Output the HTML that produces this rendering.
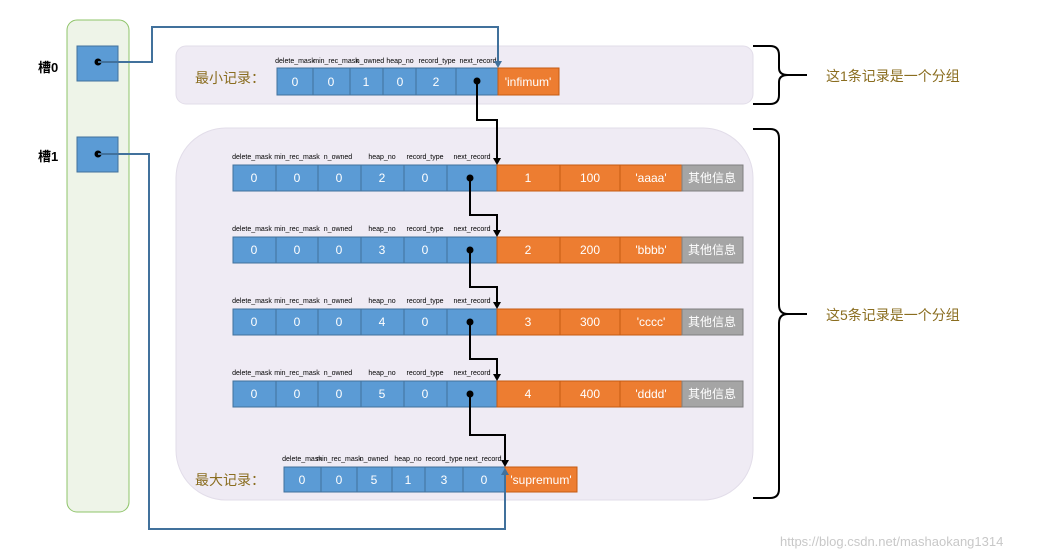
<!DOCTYPE html>
<html><head><meta charset="utf-8"><style>
html,body{margin:0;padding:0;background:#fff;}
svg{display:block;}
text{font-family:"Liberation Sans","Noto Sans CJK SC",sans-serif;}
.l{font-size:7px;fill:#000;text-anchor:middle;}
.v{font-size:12px;fill:#fff;text-anchor:middle;}
.b{fill:#5b9bd5;stroke:#41719c;stroke-width:1;}
.o{fill:#ed7d31;stroke:#c55a11;stroke-width:1;}
.g{fill:#a5a5a5;stroke:#7f7f7f;stroke-width:1;}
.cn{fill:none;stroke:#000;stroke-width:2;}
.bl{fill:none;stroke:#41719c;stroke-width:2;}
.zh{font-size:14px;fill:#8a6d1f;}
</style></head><body>
<svg width="1056" height="560" viewBox="0 0 1056 560" xmlns="http://www.w3.org/2000/svg">
<defs>
<marker id="ak" markerWidth="8" markerHeight="8" refX="4" refY="7" orient="auto" markerUnits="userSpaceOnUse"><path d="M0,0 L8,0 L4,8 z" fill="#000" transform="rotate(-90 4 4)"/></marker>
</defs>
<!-- green panel -->
<rect x="67" y="20" width="62" height="492" rx="10" fill="#eef4e8" stroke="#8fc46a" stroke-width="1"/>
<rect x="77" y="46" width="41" height="35" class="b"/>
<rect x="77" y="137" width="41" height="35" class="b"/>
<text x="38" y="72" font-size="13" font-weight="bold">槽0</text>
<text x="38" y="161" font-size="13" font-weight="bold">槽1</text>
<!-- panels -->
<rect x="176" y="46" width="577" height="58" rx="10" fill="#efebf4" stroke="#e2dde9"/>
<rect x="176" y="128" width="577" height="372" rx="50" fill="#efebf4" stroke="#e2dde9"/>
<text x="195" y="83" class="zh" font-size="15">最小记录：</text>
<text x="195" y="485" class="zh" font-size="15">最大记录：</text>
<!-- infimum -->
<g>
<text class="l" x="295" y="63">delete_mask</text><text class="l" x="336" y="63">min_rec_mask</text><text class="l" x="370" y="63">n_owned</text><text class="l" x="400" y="63">heap_no</text><text class="l" x="437" y="63">record_type</text><text class="l" x="478" y="63">next_record</text>
<rect x="277" y="68" width="36" height="27" class="b"/><rect x="313" y="68" width="37" height="27" class="b"/><rect x="350" y="68" width="33" height="27" class="b"/><rect x="383" y="68" width="33" height="27" class="b"/><rect x="416" y="68" width="40" height="27" class="b"/><rect x="456" y="68" width="42" height="27" class="b"/>
<rect x="498" y="68" width="61" height="27" class="o"/>
<text class="v" x="295" y="86">0</text><text class="v" x="331" y="86">0</text><text class="v" x="366" y="86">1</text><text class="v" x="400" y="86">0</text><text class="v" x="436" y="86">2</text>
<text class="v" x="528" y="86" font-size="10">'infimum'</text>
</g>
<!-- rows -->
<g id="rows">
<g transform="translate(0,0)">
<text class="l" x="252" y="159">delete_mask</text><text class="l" x="297" y="159">min_rec_mask</text><text class="l" x="338" y="159">n_owned</text><text class="l" x="382" y="159">heap_no</text><text class="l" x="425" y="159">record_type</text><text class="l" x="472" y="159">next_record</text>
<rect x="233" y="165" width="43" height="26" class="b"/><rect x="276" y="165" width="42" height="26" class="b"/><rect x="318" y="165" width="43" height="26" class="b"/><rect x="361" y="165" width="43" height="26" class="b"/><rect x="404" y="165" width="43" height="26" class="b"/><rect x="447" y="165" width="50" height="26" class="b"/>
<rect x="497" y="165" width="63" height="26" class="o"/><rect x="560" y="165" width="60" height="26" class="o"/><rect x="620" y="165" width="62" height="26" class="o"/><rect x="682" y="165" width="61" height="26" class="g"/>
<text class="v" x="254" y="182">0</text><text class="v" x="297" y="182">0</text><text class="v" x="339" y="182">0</text><text class="v" x="382" y="182">2</text><text class="v" x="425" y="182">0</text>
<text class="v" x="528" y="182" font-size="10">1</text><text class="v" x="590" y="182" font-size="10">100</text><text class="v" x="651" y="182" font-size="10">'aaaa'</text><text class="v" x="712" y="182" font-size="11">其他信息</text>
</g>
<g transform="translate(0,72)">
<text class="l" x="252" y="159">delete_mask</text><text class="l" x="297" y="159">min_rec_mask</text><text class="l" x="338" y="159">n_owned</text><text class="l" x="382" y="159">heap_no</text><text class="l" x="425" y="159">record_type</text><text class="l" x="472" y="159">next_record</text>
<rect x="233" y="165" width="43" height="26" class="b"/><rect x="276" y="165" width="42" height="26" class="b"/><rect x="318" y="165" width="43" height="26" class="b"/><rect x="361" y="165" width="43" height="26" class="b"/><rect x="404" y="165" width="43" height="26" class="b"/><rect x="447" y="165" width="50" height="26" class="b"/>
<rect x="497" y="165" width="63" height="26" class="o"/><rect x="560" y="165" width="60" height="26" class="o"/><rect x="620" y="165" width="62" height="26" class="o"/><rect x="682" y="165" width="61" height="26" class="g"/>
<text class="v" x="254" y="182">0</text><text class="v" x="297" y="182">0</text><text class="v" x="339" y="182">0</text><text class="v" x="382" y="182">3</text><text class="v" x="425" y="182">0</text>
<text class="v" x="528" y="182" font-size="10">2</text><text class="v" x="590" y="182" font-size="10">200</text><text class="v" x="651" y="182" font-size="10">'bbbb'</text><text class="v" x="712" y="182" font-size="11">其他信息</text>
</g>
<g transform="translate(0,144)">
<text class="l" x="252" y="159">delete_mask</text><text class="l" x="297" y="159">min_rec_mask</text><text class="l" x="338" y="159">n_owned</text><text class="l" x="382" y="159">heap_no</text><text class="l" x="425" y="159">record_type</text><text class="l" x="472" y="159">next_record</text>
<rect x="233" y="165" width="43" height="26" class="b"/><rect x="276" y="165" width="42" height="26" class="b"/><rect x="318" y="165" width="43" height="26" class="b"/><rect x="361" y="165" width="43" height="26" class="b"/><rect x="404" y="165" width="43" height="26" class="b"/><rect x="447" y="165" width="50" height="26" class="b"/>
<rect x="497" y="165" width="63" height="26" class="o"/><rect x="560" y="165" width="60" height="26" class="o"/><rect x="620" y="165" width="62" height="26" class="o"/><rect x="682" y="165" width="61" height="26" class="g"/>
<text class="v" x="254" y="182">0</text><text class="v" x="297" y="182">0</text><text class="v" x="339" y="182">0</text><text class="v" x="382" y="182">4</text><text class="v" x="425" y="182">0</text>
<text class="v" x="528" y="182" font-size="10">3</text><text class="v" x="590" y="182" font-size="10">300</text><text class="v" x="651" y="182" font-size="10">'cccc'</text><text class="v" x="712" y="182" font-size="11">其他信息</text>
</g>
<g transform="translate(0,216)">
<text class="l" x="252" y="159">delete_mask</text><text class="l" x="297" y="159">min_rec_mask</text><text class="l" x="338" y="159">n_owned</text><text class="l" x="382" y="159">heap_no</text><text class="l" x="425" y="159">record_type</text><text class="l" x="472" y="159">next_record</text>
<rect x="233" y="165" width="43" height="26" class="b"/><rect x="276" y="165" width="42" height="26" class="b"/><rect x="318" y="165" width="43" height="26" class="b"/><rect x="361" y="165" width="43" height="26" class="b"/><rect x="404" y="165" width="43" height="26" class="b"/><rect x="447" y="165" width="50" height="26" class="b"/>
<rect x="497" y="165" width="63" height="26" class="o"/><rect x="560" y="165" width="60" height="26" class="o"/><rect x="620" y="165" width="62" height="26" class="o"/><rect x="682" y="165" width="61" height="26" class="g"/>
<text class="v" x="254" y="182">0</text><text class="v" x="297" y="182">0</text><text class="v" x="339" y="182">0</text><text class="v" x="382" y="182">5</text><text class="v" x="425" y="182">0</text>
<text class="v" x="528" y="182" font-size="10">4</text><text class="v" x="590" y="182" font-size="10">400</text><text class="v" x="651" y="182" font-size="10">'dddd'</text><text class="v" x="712" y="182" font-size="11">其他信息</text>
</g>
</g>
<!-- supremum -->
<g>
<text class="l" x="302" y="461">delete_mask</text><text class="l" x="339" y="461">min_rec_mask</text><text class="l" x="374" y="461">n_owned</text><text class="l" x="408" y="461">heap_no</text><text class="l" x="444" y="461">record_type</text><text class="l" x="483" y="461">next_record</text>
<rect x="284" y="467" width="37" height="25" class="b"/><rect x="321" y="467" width="36" height="25" class="b"/><rect x="357" y="467" width="35" height="25" class="b"/><rect x="392" y="467" width="33" height="25" class="b"/><rect x="425" y="467" width="38" height="25" class="b"/><rect x="463" y="467" width="42" height="25" class="b"/>
<rect x="505" y="467" width="72" height="25" class="o"/>
<text class="v" x="302" y="484">0</text><text class="v" x="339" y="484">0</text><text class="v" x="374" y="484">5</text><text class="v" x="408" y="484">1</text><text class="v" x="444" y="484">3</text><text class="v" x="484" y="484">0</text>
<text class="v" x="541" y="484" font-size="10">'supremum'</text>
</g>
<!-- black connectors -->
<path class="cn" d="M477,81 V120 H497 V160"/>
<path class="cn" d="M470,178 V215 H497 V232"/>
<path class="cn" d="M470,250 V287 H497 V304"/>
<path class="cn" d="M470,322 V359 H497 V376"/>
<path class="cn" d="M470,394 V435 H505 V462"/>
<g fill="#000">
<path d="M493,158 L501,158 L497,165 z"/><path d="M493,230 L501,230 L497,237 z"/><path d="M493,302 L501,302 L497,309 z"/><path d="M493,374 L501,374 L497,381 z"/><path d="M501,460 L509,460 L505,467 z"/>
<circle cx="477" cy="81" r="3.5"/><circle cx="470" cy="178" r="3.5"/><circle cx="470" cy="250" r="3.5"/><circle cx="470" cy="322" r="3.5"/><circle cx="470" cy="394" r="3.5"/>
<circle cx="98" cy="62" r="3.5"/><circle cx="98" cy="154" r="3.5"/>
</g>
<!-- blue connectors -->
<path class="bl" d="M98,62 H152 V27 H498 V62"/>
<path d="M494,61 L502,61 L498,68 z" fill="#41719c"/>
<path class="bl" d="M98,154 H149 V529 H505 V474"/>
<path d="M501,475 L509,475 L505,468 z" fill="#41719c"/>
<!-- braces -->
<path d="M753,46 H770 Q779,46 779,55 V68 Q779,75 788,75 H807 M788,75 Q779,75 779,82 V95 Q779,104 770,104 H753" fill="none" stroke="#000" stroke-width="2"/>
<path d="M753,129 H770 Q779,129 779,138 V305 Q779,314 788,314 H807 M788,314 Q779,314 779,323 V489 Q779,498 770,498 H753" fill="none" stroke="#000" stroke-width="2"/>
<text x="826" y="81" class="zh">这1条记录是一个分组</text>
<text x="826" y="320" class="zh">这5条记录是一个分组</text>
<text x="780" y="546" font-size="13" fill="#c8c8c8">https://blog.csdn.net/mashaokang1314</text>
</svg>
</body></html>
